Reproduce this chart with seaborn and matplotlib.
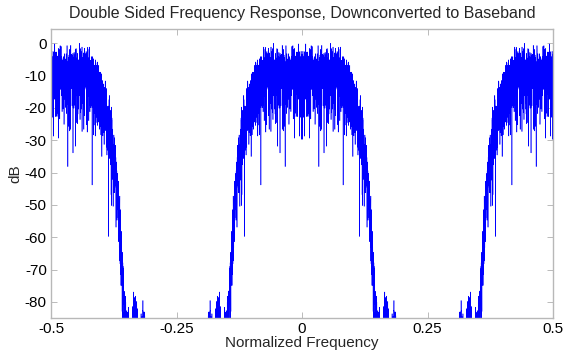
import numpy as np
import pandas as pd
import matplotlib
matplotlib.use("Agg")
import matplotlib.pyplot as plt
import seaborn as sns

# Signal and filter settings
fft_length = 8192             # points in the double-sided spectrum
upsample_factor = [2]         # zero-insertion upsampling -> images at +/-0.5
filter_taps = [31]            # lowpass FIR length (Blackman-windowed sinc)
filter_cutoff = [0.2]         # cutoff in cycles/sample before upsampling
prbs_taps = [23, 18]          # PRBS-23 generator x^23 + x^18 + 1

# Axis layout
x_limits = [-0.5, 0.5]
y_limits = [-85, 4.4]
x_ticks = [-0.5, -0.25, 0, 0.25, 0.5]
x_tick_labels = ["-0.5", "-0.25", "0", "0.25", "0.5"]
y_ticks = [0, -10, -20, -30, -40, -50, -60, -70, -80]
y_tick_labels = ["0", "-10", "-20", "-30", "-40", "-50", "-60", "-70", "-80"]


def prbs_bits(n, taps, seed=0x5A5A5):
    """Linear-feedback shift register bit sequence."""
    order, tap = taps
    state = seed & ((1 << order) - 1)
    out = np.empty(n, dtype=np.int8)
    for i in range(n):
        fb = ((state >> (order - 1)) ^ (state >> (tap - 1))) & 1
        out[i] = fb
        state = ((state << 1) | fb) & ((1 << order) - 1)
    return out


# BPSK symbols shaped by a windowed-sinc lowpass (circular filtering)
n_base = fft_length // upsample_factor[0]
symbols = 2.0 * prbs_bits(n_base, prbs_taps) - 1.0
m = filter_taps[0]
k = np.arange(m) - (m - 1) / 2
h = 2 * filter_cutoff[0] * np.sinc(2 * filter_cutoff[0] * k) * np.blackman(m)
base_spec = np.fft.fft(symbols) * np.fft.fft(h, n_base)

# Zero-insertion upsampling repeats the baseband spectrum
spectrum = np.fft.fftshift(np.tile(base_spec, upsample_factor[0]))
freq = np.fft.fftshift(np.fft.fftfreq(fft_length))
mag_db = 20 * np.log10(np.abs(spectrum) / np.abs(spectrum).max() + 1e-12)

df = pd.DataFrame({"Normalized Frequency": freq, "dB": mag_db})

sns.set_theme(style="white")
plt.rcParams["font.family"] = ["Liberation Sans", "DejaVu Sans"]

fig = plt.figure(figsize=(5.66, 3.55), dpi=100)
ax = fig.add_axes([0.0901, 0.1042, 0.887, 0.8141])
sns.lineplot(data=df, x="Normalized Frequency", y="dB", ax=ax,
             color="#0000ff", linewidth=0.4, sort=False, estimator=None)

ax.set_xlim(x_limits)
ax.set_ylim(y_limits)
ax.set_xticks(x_ticks)
ax.set_xticklabels(x_tick_labels)
ax.set_yticks(y_ticks)
ax.set_yticklabels(y_tick_labels)
ax.tick_params(direction="in", length=4, width=0.6, color="#b0b0b0",
               labelsize=11, labelcolor="black", top=True, right=True,
               bottom=True, left=True, pad=3)
for s in ax.spines.values():
    s.set_color("#b8b8b8")
    s.set_linewidth(1.0)
ax.set_xlabel("Normalized Frequency", fontsize=11, labelpad=0)
ax.set_ylabel("dB", fontsize=11, labelpad=2)
ax.set_title("Double Sided Frequency Response, Downconverted to Baseband",
             fontsize=11.5, pad=8)

fig.savefig("out.png", dpi=100, facecolor="white")
